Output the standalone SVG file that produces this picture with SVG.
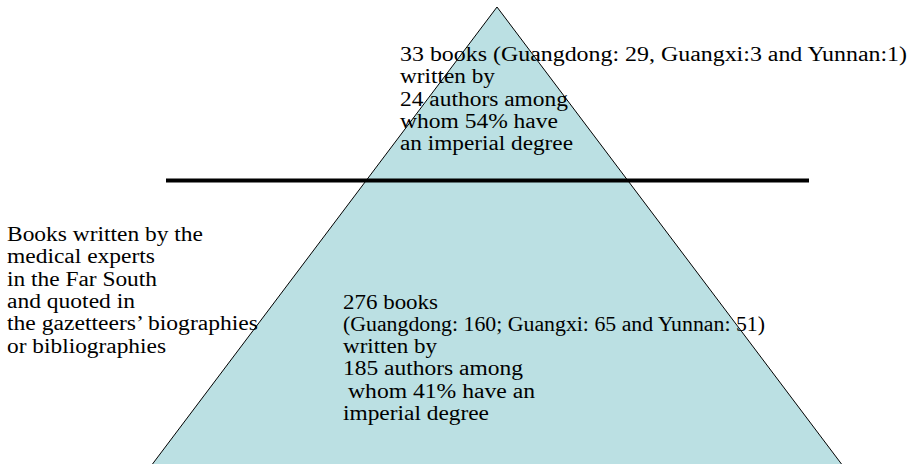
<svg xmlns="http://www.w3.org/2000/svg" width="913" height="464" viewBox="0 0 913 464">
<style>
.t{font-family:"Liberation Serif","Times New Roman",serif;font-size:20px;fill:#000}
</style>
<rect width="913" height="464" fill="#fff"/>
<g id="pyramid">
<polygon points="497,7 151,466 843,466" fill="#BBE0E3" stroke="#000" stroke-width="1"/>
</g>
<g id="connectors">
<line x1="166" y1="180.5" x2="809" y2="180.5" stroke="#000" stroke-width="4"/>
</g>
<g id="top-label">
<text class="t" lengthAdjust="spacingAndGlyphs" x="400" y="61" textLength="507">33 books (Guangdong: 29, Guangxi:3 and Yunnan:1)</text>
<text class="t" lengthAdjust="spacingAndGlyphs" x="400" y="83.3" textLength="95">written by</text>
<text class="t" lengthAdjust="spacingAndGlyphs" x="400" y="105.6" textLength="168">24 authors among</text>
<text class="t" lengthAdjust="spacingAndGlyphs" x="400" y="127.9" textLength="158">whom 54% have</text>
<text class="t" lengthAdjust="spacingAndGlyphs" x="400" y="150.2" textLength="173">an imperial degree</text>
</g>
<g id="left-label">
<text class="t" lengthAdjust="spacingAndGlyphs" x="7" y="241" textLength="196">Books written by the</text>
<text class="t" lengthAdjust="spacingAndGlyphs" x="7" y="263.3" textLength="148">medical experts</text>
<text class="t" lengthAdjust="spacingAndGlyphs" x="7" y="285.6" textLength="150">in the Far South</text>
<text class="t" lengthAdjust="spacingAndGlyphs" x="7" y="307.9" textLength="128">and quoted in</text>
<text class="t" lengthAdjust="spacingAndGlyphs" x="7" y="330.2" textLength="251">the gazetteers’ biographies</text>
<text class="t" lengthAdjust="spacingAndGlyphs" x="7" y="352.5" textLength="159">or bibliographies</text>
</g>
<g id="bottom-label">
<text class="t" lengthAdjust="spacingAndGlyphs" x="343" y="308.5" textLength="95">276 books</text>
<text class="t" lengthAdjust="spacingAndGlyphs" x="343" y="330.8" textLength="422">(Guangdong: 160; Guangxi: 65 and Yunnan: 51)</text>
<text class="t" lengthAdjust="spacingAndGlyphs" x="343" y="353.1" textLength="94">written by</text>
<text class="t" lengthAdjust="spacingAndGlyphs" x="343" y="375.4" textLength="180">185 authors among</text>
<text class="t" lengthAdjust="spacingAndGlyphs" x="348" y="397.7" textLength="187">whom 41% have an</text>
<text class="t" lengthAdjust="spacingAndGlyphs" x="343" y="420" textLength="146">imperial degree</text>
</g>
</svg>
